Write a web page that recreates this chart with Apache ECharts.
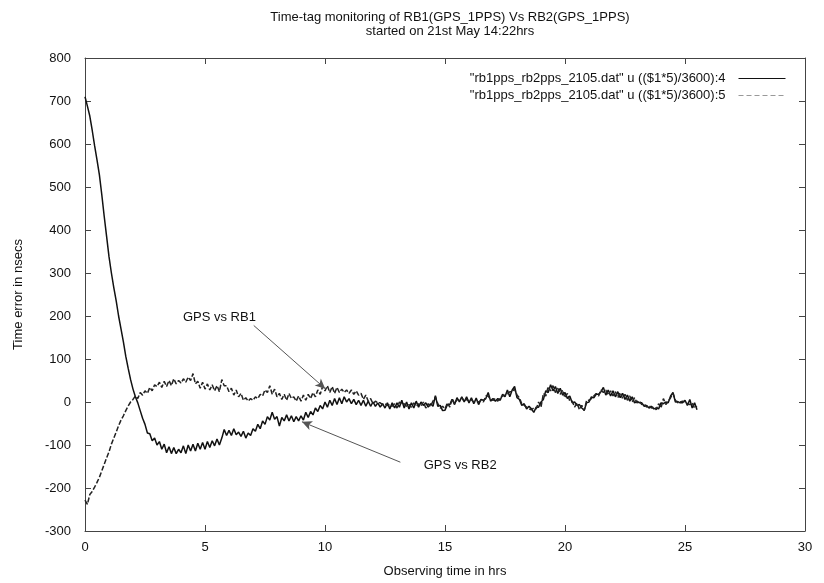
<!DOCTYPE html>
<html>
<head>
<meta charset="utf-8">
<script src="https://cdn.jsdelivr.net/npm/echarts@6/dist/echarts.min.js"></script>
<style>html,body{margin:0;padding:0;background:#fff}#c{width:824px;height:583px}</style>
</head>
<body>
<div id="c"></div>
<script>
// Sampling step of the time axis (hours)
const STEP = 0.1;
const titleText = 'Time-tag monitoring of RB1(GPS_1PPS) Vs RB2(GPS_1PPS)\nstarted on 21st May 14:22hrs';
const xName = 'Observing time in hrs';
const yName = 'Time error in nsecs';
const seriesNames = ['"rb1pps_rb2pps_2105.dat" u (($1*5)/3600):4', '"rb1pps_rb2pps_2105.dat" u (($1*5)/3600):5'];
const xTicks = [0, 5, 10, 15, 20, 25, 30];
const yTicks = [-300, -200, -100, 0, 100, 200, 300, 400, 500, 600, 700, 800];

// column 4 (solid) : GPS vs RB2
const col4 = [
  710, 688, 665, 632, 596, 563, 528, 482, 432, 385,
  338, 300, 266, 235, 200, 170, 140, 106, 78, 52,
  30, 12, -2, -20, -38, -52, -72, -74, -90, -84,
  -100, -92, -110, -98, -118, -104, -120, -106, -120, -110,
  -118, -102, -120, -100, -114, -98, -114, -96, -110, -94,
  -110, -92, -106, -90, -102, -86, -100, -84, -64, -78,
  -66, -78, -62, -76, -70, -80, -68, -84, -72, -78,
  -62, -68, -52, -62, -44, -52, -34, -42, -24, -40,
  -34, -56, -36, -44, -30, -44, -32, -46, -34, -44,
  -32, -42, -24, -36, -22, -30, -14, -22, -8, -16,
  0, -12, 4, -8, 8, -6, 10, -4, 12, 0,
  8, -4, 6, -6, 4, -8, 4, -10, 2, -10,
  0, -10, -2, -12, -4, -14, -2, -16, -2, -14,
  -2, -12, 4, -14, 0, -16, -2, -14, 2, -12,
  0, -8, -2, -12, -4, -10, 15, -10, -8, -20,
  -19, -6, -6, 6, -6, 10, 0, 12, 0, 12,
  -2, 10, -4, 9, -6, 6, 4, 8, 22, 2,
  8, 2, 8, 4, 18, 12, 28, 12, 28, 36,
  10, 6, -8, -4, -16, -10, -16, -24, -12, -12,
  0, 6, 26, 22, 40, 26, 36, 20, 32, 16,
  22, 8, 14, -2, 0, -8, -6, -14, -19, -2,
  0, 12, 10, 18, 18, 24, 34, 16, 28, 14,
  26, 12, 24, 10, 20, 6, 16, 2, 12, -2,
  2, -2, -2, -10, -8, -14, -10, -16, -14, -16,
  -2, -4, 0, -2, 14, 22, 0, 1, -2, -2,
  4, -8, 6, -14, -2, -18
];

// column 5 (dashed) : GPS vs RB1
const col5 = [
  -228, -238, -215, -208, -198, -187, -175, -160, -145, -130,
  -116, -98, -84, -70, -55, -42, -32, -20, -9, 0,
  6, 14, 8, 22, 16, 26, 20, 34, 26, 40,
  36, 46, 34, 48, 36, 50, 38, 54, 42, 50,
  44, 54, 46, 58, 50, 66, 42, 48, 32, 46,
  30, 42, 28, 40, 26, 38, 24, 52, 38, 38,
  24, 32, 16, 28, 12, 20, 4, 10, 2, 8,
  4, 12, 8, 18, 14, 28, 22, 38, 18, 30,
  12, 20, 6, 18, 4, 20, 8, 12, 2, 14,
  2, 16, 4, 18, 8, 22, 12, 28, 18, 36,
  26, 38, 22, 36, 20, 34, 22, 30, 22, 28,
  20, 28, 18, 26, 16, 20, 6, 16, 2, 8,
  -4, 2, -2, -2, -6, -4, -8, -6, -10, -4,
  -14, 0, -6, -4, -10, -6, -12, -2, -10, -4,
  -10, 0, -14, -4, -10, 2, 12, -4, -14, -10,
  -16, -2, -12, 8, -4, 6, 4, 10, 2, 6,
  2, 5, 0, 2, 0, 4, 0, 14, 14, 6,
  4, 8, 2, 10, 14, 16, 18, 24, 24, 30,
  16, 10, -4, -8, -12, -16, -18, -14, -16, 0,
  -12, 20, 14, 36, 26, 38, 22, 32, 18, 28,
  10, 20, 2, 2, -12, -2, -18, -8, -20, 4,
  4, 8, 14, 20, 14, 28, 22, 28, 16, 26,
  14, 24, 10, 22, 8, 18, 4, 14, 0, 10,
  -2, 2, -6, -4, -12, -8, -14, -12, -18, -4,
  -14, 8, -6, 2, 10, 20, 4, -2, 0, 2,
  0, -4, -6, -2, -14, -10
];

// annotations (data coordinates)
const labelRB1 = {text: 'GPS vs RB1', at: [4.08, 197], from: [7.03, 178], to: [10.01, 31]};
const labelRB2 = {text: 'GPS vs RB2', at: [14.11, -147], from: [13.14, -140], to: [9.04, -46]};

const toPairs = arr => arr.map((v, i) => [Math.round(i * 10 * STEP) / 10, v]);

const font = '"Liberation Sans", Arial, sans-serif';
const chart = echarts.init(document.getElementById('c'), null, {renderer: 'canvas'});

const axisCommon = {
  axisLine: {show: true, onZero: false, lineStyle: {color: '#444', width: 1}},
  axisTick: {show: true, inside: true, length: 6, lineStyle: {color: '#444'}},
  splitLine: {show: false}
};

chart.setOption({
  animation: false,
  backgroundColor: '#fff',
  title: {
    text: titleText,
    left: 445, top: 5, textAlign: 'center',
    textStyle: {fontFamily: font, fontSize: 13, fontWeight: 'normal', color: '#111', lineHeight: 14}
  },
  legend: {
    orient: 'vertical', right: 33, top: 67, align: 'right',
    itemWidth: 47, itemHeight: 10, itemGap: 4,
    itemStyle: {opacity: 0},
    textStyle: {fontFamily: font, fontSize: 13, color: '#111', padding: [0, 8, 0, 0]},
    data: [
      {name: seriesNames[0], lineStyle: {color: '#111', width: 1, type: 'solid'}},
      {name: seriesNames[1], lineStyle: {color: '#999', width: 1, type: [5, 3]}}
    ]
  },
  grid: {left: 85, right: 19, top: 58, bottom: 52},
  xAxis: [
    Object.assign({
      type: 'value', min: 0, max: 30, interval: 5, position: 'bottom',
      name: xName, nameLocation: 'middle', nameGap: 34,
      nameTextStyle: {fontFamily: font, fontSize: 13, color: '#111'},
      axisLabel: {fontFamily: font, fontSize: 13, color: '#111', margin: 10}
    }, axisCommon),
    Object.assign({
      type: 'value', min: 0, max: 30, interval: 5, position: 'top',
      axisLabel: {show: false}
    }, axisCommon)
  ],
  yAxis: [
    Object.assign({
      type: 'value', min: -300, max: 800, interval: 100, position: 'left',
      name: yName, nameLocation: 'middle', nameGap: 60, nameRotate: 90,
      nameTextStyle: {fontFamily: font, fontSize: 13, color: '#111'},
      axisLabel: {fontFamily: font, fontSize: 13, color: '#111', margin: 14}
    }, axisCommon),
    Object.assign({
      type: 'value', min: -300, max: 800, interval: 100, position: 'right',
      axisLabel: {show: false}
    }, axisCommon)
  ],
  series: [
    {
      name: seriesNames[0], type: 'line', xAxisIndex: 0, yAxisIndex: 0,
      data: toPairs(col4), showSymbol: false, symbol: 'none',
      lineStyle: {color: '#111', width: 1.5}, itemStyle: {color: '#111'},
      z: 2,
      markLine: {
        silent: true, symbol: ['none', 'arrow'], symbolSize: [7, 10],
        label: {show: false},
        lineStyle: {color: '#555', width: 1, type: 'solid'},
        data: [
          [{coord: labelRB1.from}, {coord: labelRB1.to}],
          [{coord: labelRB2.from}, {coord: labelRB2.to}]
        ]
      },
      markPoint: {
        silent: true, symbol: 'circle', symbolSize: 0,
        label: {show: true, position: 'right', distance: 0, fontFamily: font, fontSize: 13, color: '#111',
          formatter: p => p.name},
        data: [
          {name: labelRB1.text, coord: labelRB1.at},
          {name: labelRB2.text, coord: labelRB2.at}
        ]
      }
    },
    {
      name: seriesNames[1], type: 'line', xAxisIndex: 0, yAxisIndex: 0,
      data: toPairs(col5), showSymbol: false, symbol: 'none',
      lineStyle: {color: '#222', width: 1.5, type: [5, 2]}, itemStyle: {color: '#222'},
      z: 3
    }
  ]
});
</script>
</body>
</html>
